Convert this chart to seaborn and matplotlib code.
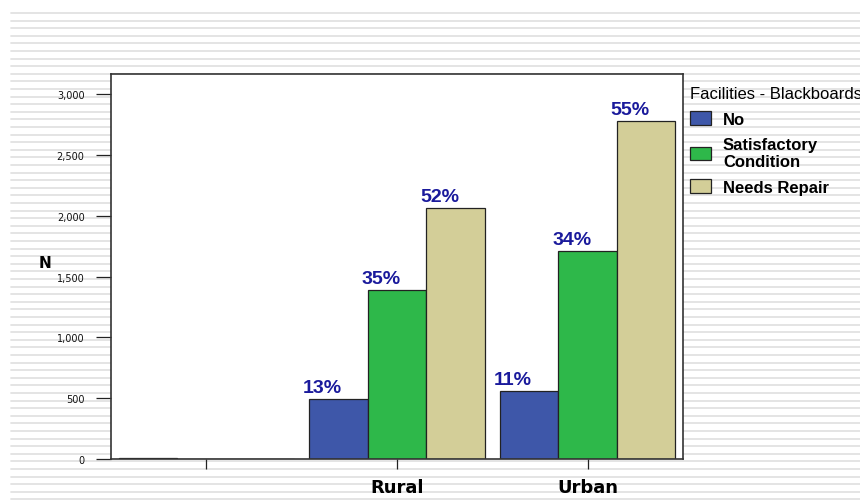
import numpy as np
import pandas as pd
import matplotlib.pyplot as plt
import matplotlib.transforms as mtransforms
import seaborn as sns
from matplotlib.lines import Line2D

# ----------------------------
# Data
# ----------------------------
categories = ["", "Rural", "Urban"]
statuses = ["No", "Satisfactory\nCondition", "Needs Repair"]
no_counts = [10, 495, 560]
satisfactory_counts = [0, 1393, 1714]
repair_counts = [0, 2061, 2778]
yticks = [0, 500, 1000, 1500, 2000, 2500, 3000]
colors = ["#3e57a9", "#2eb84a", "#d3ce98"]

df = pd.DataFrame({
    "area": categories * 3,
    "status": np.repeat(statuses, len(categories)),
    "N": no_counts + satisfactory_counts + repair_counts,
})

sns.set_theme(style="white")
plt.rcParams["font.family"] = ["Liberation Sans", "DejaVu Sans"]
plt.rcParams["text.color"] = "black"

fig = plt.figure(figsize=(8.6, 5.02), dpi=100)

# striped slide background
for y in np.arange(14, 502, 7.6):
    fig.add_artist(Line2D([11 / 860, 1], [1 - y / 502] * 2,
                          color="#e2e2e2", lw=1.3, zorder=-10))

ax = fig.add_axes([111 / 860, 42 / 502, 572 / 860, 385 / 502])
ax.set_facecolor("white")

sns.barplot(
    data=df, x="area", y="N", hue="status",
    order=categories, hue_order=statuses,
    palette=colors, saturation=1, width=0.92,
    edgecolor="#222222", linewidth=0.9, ax=ax
)

# ----------------------------
# Percentage labels
# ----------------------------
totals = df.groupby("area")["N"].sum()
for container in ax.containers:
    for bar, area in zip(container, categories):
        if area == "":
            continue
        h = bar.get_height()
        pct = h / totals[area] * 100
        ax.annotate(f"{pct:.0f}%", (bar.get_x() + bar.get_width() / 2, h),
                    xytext=(-16, 3), textcoords="offset pixels",
                    ha="center", va="bottom", fontsize=14,
                    fontweight="bold", color="#1a1a9c")

# ----------------------------
# Axes styling
# ----------------------------
ax.set_xlim(-0.5, 2.5)
ax.set_ylim(0, 3165)
ax.set_yticks(yticks)
ax.set_yticklabels([f"{v:,}" for v in yticks], fontsize=7,
                   family="DejaVu Sans", color="#111111")
ax.set_xticks(range(len(categories)))
ax.set_xticklabels(categories, fontsize=13, fontweight="bold",
                   family="DejaVu Sans", color="black")
shift = mtransforms.ScaledTranslation(8 / 100, 0, fig.dpi_scale_trans)
for lbl in ax.get_xticklabels():
    lbl.set_transform(lbl.get_transform() + shift)
ax.tick_params(axis="y", direction="out", length=11, width=0.9,
               pad=8, left=True, color="#222222")
ax.tick_params(axis="x", direction="out", length=7, width=0.9,
               pad=7, bottom=True, color="#222222")
ax.set_xlabel("")
ax.set_ylabel("N", rotation=0, fontsize=11, fontweight="bold",
              family="DejaVu Sans", color="black")
ax.yaxis.set_label_coords(-0.115, 0.49)

for side in ["left", "bottom", "top", "right"]:
    ax.spines[side].set_visible(True)
    ax.spines[side].set_color("#333333")
    ax.spines[side].set_linewidth(1.2)

sns.move_legend(
    ax, "upper left", bbox_to_anchor=(1.0, 0.985),
    title="Facilities - Blackboards", frameon=False,
    prop={"weight": "bold", "size": 12}, title_fontsize=12,
    alignment="left", handlelength=1.3, handleheight=0.85,
    handletextpad=0.7, labelspacing=0.6, borderaxespad=0.2,
    borderpad=0.2
)
leg = ax.get_legend()
leg.get_title().set_color("black")
for t in leg.get_texts():
    t.set_color("black")

fig.savefig("out.png", dpi=100)
